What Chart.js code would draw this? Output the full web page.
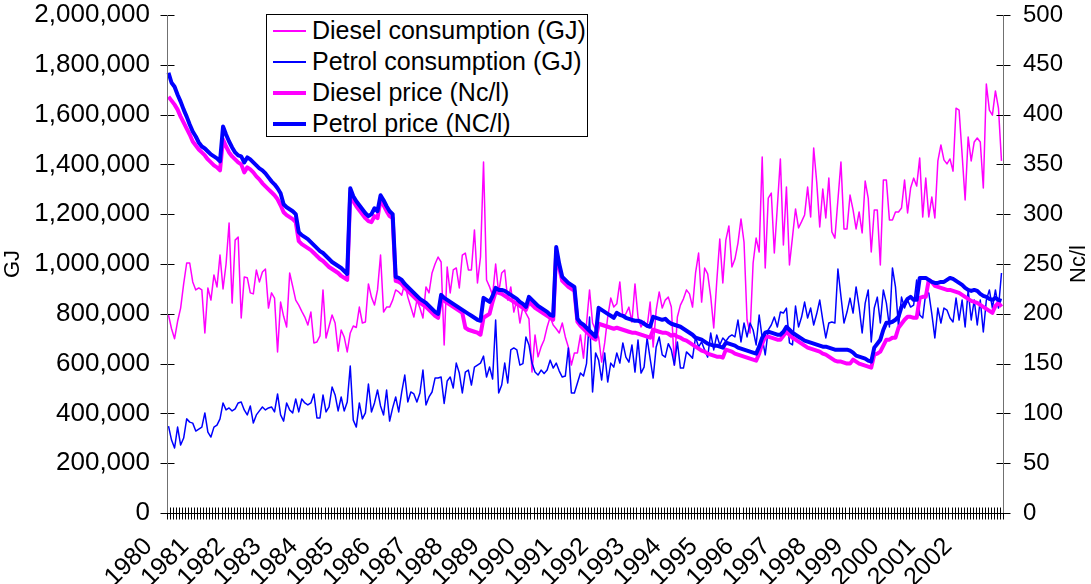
<!DOCTYPE html>
<html>
<head>
<meta charset="utf-8">
<script src="https://cdn.jsdelivr.net/npm/chart.js@4.4.1/dist/chart.umd.min.js"></script>
<style>
  html, body { margin: 0; padding: 0; background: #fff; }
  #wrap { position: relative; width: 1091px; height: 584px; overflow: hidden; }
  #legend {
    position: absolute; left: 266px; top: 14px; width: 320px; height: 121px;
    border: 1px solid #000; background: #fff;
    font-family: 'Liberation Sans', Arial, sans-serif; font-size: 25px; color: #000;
  }
  #legend .row { display: flex; align-items: center; height: 31px; }
  #legend .swatch { margin-left: 6px; width: 33px; margin-right: 6px; }
</style>
</head>
<body>
<div id="wrap">
  <canvas id="chart" width="1091" height="584"></canvas>
  <div id="legend"></div>
</div>
<script>
{
  const years = ['1980', '1981', '1982', '1983', '1984', '1985', '1986', '1987', '1988', '1989', '1990', '1991',
    '1992', '1993', '1994', '1995', '1996', '1997', '1998', '1999', '2000', '2001', '2002'];

  // one category per month, Jan 1980 .. Dec 2002
  const months = years.flatMap(y => ['01', '02', '03', '04', '05', '06', '07', '08', '09', '10', '11', '12'].map(m => y + '-' + m));

  // diesel consumption, GJ per month
  const dieselGJ = [
    795000, 740000, 700000, 770000, 823000, 920000, 1004000, 1004000, 928000, 896000, 904000, 896000,
    723000, 904000, 855000, 956000, 908000, 1036000, 900000, 1000000, 1165000, 843000, 1096000, 1108000,
    783000, 948000, 945000, 884000, 880000, 976000, 928000, 968000, 980000, 823000, 884000, 863000,
    647000, 847000, 790000, 747000, 964000, 910000, 855000, 835000, 810000, 787000, 755000, 807000,
    683000, 687000, 711000, 896000, 703000, 750000, 795000, 763000, 650000, 735000, 707000, 647000,
    723000, 751000, 745000, 827000, 763000, 767000, 920000, 867000, 835000, 896000, 1036000, 807000,
    827000, 827000, 855000, 896000, 888000, 875000, 924000, 867000, 827000, 787000, 855000, 823000,
    783000, 908000, 884000, 964000, 1000000, 1028000, 1008000, 675000, 988000, 884000, 976000, 984000,
    904000, 1036000, 1044000, 976000, 976000, 1137000, 924000, 1028000, 1410000, 936000, 908000, 875000,
    1000000, 884000, 964000, 976000, 855000, 908000, 807000, 855000, 763000, 827000, 803000, 780000,
    566000, 715000, 627000, 667000, 695000, 747000, 787000, 755000, 740000, 723000, 763000, 707000,
    667000, 594000, 643000, 643000, 715000, 622000, 760000, 896000, 763000, 735000, 707000, 606000,
    683000, 787000, 863000, 827000, 840000, 928000, 787000, 800000, 827000, 767000, 920000, 787000,
    747000, 770000, 747000, 847000, 667000, 815000, 888000, 823000, 855000, 867000, 827000, 594000,
    787000, 835000, 860000, 896000, 880000, 827000, 964000, 1044000, 847000, 984000, 960000, 870000,
    743000, 930000, 1100000, 924000, 1096000, 1153000, 988000, 1020000, 1084000, 1181000, 1088000, 775000,
    723000, 1004000, 1104000, 1048000, 1430000, 984000, 1265000, 1285000, 1044000, 1230000, 1422000, 1076000,
    1309000, 996000, 1108000, 1221000, 1145000, 1170000, 1197000, 1309000, 1189000, 1466000, 1329000, 1149000,
    1301000, 1185000, 1345000, 1129000, 1104000, 1257000, 1410000, 1141000, 1141000, 1277000, 1217000, 1141000,
    1209000, 1125000, 1333000, 1265000, 1048000, 1217000, 1217000, 996000, 1337000, 1337000, 1177000, 1177000,
    1209000, 1209000, 1225000, 1337000, 1205000, 1305000, 1345000, 1313000, 1426000, 1189000, 1345000, 1189000,
    1269000, 1185000, 1414000, 1478000, 1418000, 1402000, 1422000, 1373000, 1626000, 1618000, 1440000, 1257000,
    1510000, 1414000, 1490000, 1506000, 1490000, 1305000, 1723000, 1618000, 1598000, 1695000, 1626000, 1414000
  ];

  // petrol consumption, GJ per month
  const petrolGJ = [
    349000, 293000, 261000, 345000, 273000, 301000, 378000, 365000, 361000, 329000, 337000, 345000,
    402000, 325000, 305000, 345000, 353000, 378000, 442000, 414000, 422000, 410000, 418000, 442000,
    446000, 414000, 394000, 430000, 361000, 394000, 410000, 426000, 414000, 422000, 426000, 406000,
    478000, 394000, 369000, 442000, 414000, 402000, 458000, 406000, 458000, 442000, 434000, 442000,
    478000, 382000, 382000, 474000, 406000, 426000, 506000, 474000, 410000, 466000, 410000, 446000,
    590000, 373000, 345000, 442000, 378000, 402000, 518000, 406000, 442000, 494000, 430000, 394000,
    494000, 369000, 422000, 466000, 406000, 486000, 554000, 446000, 486000, 478000, 446000, 482000,
    574000, 434000, 466000, 486000, 542000, 542000, 546000, 440000, 530000, 546000, 502000, 602000,
    562000, 482000, 566000, 574000, 514000, 586000, 594000, 602000, 630000, 546000, 586000, 538000,
    775000, 482000, 514000, 602000, 522000, 655000, 663000, 655000, 594000, 600000, 707000, 675000,
    602000, 566000, 554000, 574000, 560000, 574000, 614000, 582000, 602000, 570000, 546000, 550000,
    663000, 482000, 482000, 522000, 562000, 550000, 600000, 787000, 486000, 643000, 614000, 534000,
    643000, 526000, 602000, 586000, 643000, 602000, 683000, 626000, 606000, 675000, 566000, 695000,
    562000, 586000, 703000, 620000, 542000, 667000, 707000, 635000, 626000, 680000, 655000, 594000,
    687000, 582000, 582000, 647000, 635000, 622000, 707000, 667000, 687000, 655000, 626000, 723000,
    655000, 715000, 675000, 703000, 690000, 707000, 715000, 707000, 775000, 687000, 763000, 707000,
    763000, 735000, 675000, 795000, 703000, 635000, 735000, 755000, 787000, 747000, 807000, 803000,
    823000, 683000, 675000, 831000, 747000, 787000, 847000, 783000, 823000, 755000, 800000, 855000,
    775000, 703000, 763000, 767000, 763000, 980000, 870000, 763000, 807000, 863000, 803000, 908000,
    827000, 723000, 843000, 896000, 687000, 823000, 867000, 763000, 896000, 843000, 747000, 984000,
    908000, 747000, 867000, 823000, 855000, 827000, 835000, 936000, 795000, 783000, 884000, 884000,
    800000, 703000, 823000, 763000, 823000, 815000, 783000, 767000, 863000, 775000, 855000, 747000,
    896000, 775000, 855000, 755000, 855000, 727000, 855000, 896000, 823000, 896000, 823000, 964000
  ];

  // diesel price, Nc/l
  const dieselPrice = [
    418, 414, 410, 405, 398, 392, 386, 380, 373, 369, 365, 362,
    359, 355, 352, 349, 347, 344, 375, 368, 362, 358, 355, 352,
    350, 342, 347, 345, 342, 338, 335, 331, 328, 325, 322, 319,
    315, 309, 302, 299, 297, 295, 292, 273, 270, 268, 266, 264,
    261, 258, 255, 253, 250, 247, 245, 243, 241, 238, 236, 234,
    321, 313, 308, 304, 300, 296, 293, 292, 298, 296, 314, 309,
    303, 298, 296, 233, 232, 230, 226, 223, 220, 217, 214, 211,
    209, 207, 204, 201, 198, 196, 215, 213, 211, 209, 207, 205,
    203, 201, 186, 184, 183, 182, 181, 179, 196, 198, 200, 212,
    222, 221, 220, 218, 216, 214, 212, 210, 208, 206, 204, 212,
    209, 206, 204, 202, 200, 198, 196, 194, 262, 246, 233, 230,
    227, 225, 223, 192, 188, 185, 182, 179, 176, 174, 190, 189,
    188, 187, 186, 185, 186, 185, 184, 183, 182, 181, 181, 180,
    179, 178, 177, 176, 184, 183, 182, 181, 181, 180, 178, 179,
    177, 176, 174, 173, 171, 169, 167, 165, 163, 162, 160, 159,
    158, 157, 157, 156, 164, 163, 162, 160, 159, 158, 157, 156,
    155, 154, 153, 160, 170, 177, 177, 176, 175, 174, 174, 178,
    182, 179, 176, 174, 172, 170, 168, 166, 165, 164, 163, 162,
    160, 159, 157, 155, 153, 152, 152, 151, 150, 150, 154, 152,
    150, 149, 148, 147, 146, 159, 160, 162, 168, 174, 174, 176,
    176, 186, 190, 194, 197, 197, 196, 196, 216, 217, 217, 234,
    232, 228, 227, 226, 225, 224, 224, 223, 222, 221, 219, 217,
    215, 213, 212, 211, 209, 207, 205, 203, 201, 208, 211, 207
  ];

  // petrol price, Nc/l
  const petrolPrice = [
    442, 432, 428, 420, 413, 405, 398, 390, 383, 378, 372, 368,
    366, 363, 360, 358, 356, 353, 388, 380, 373, 367, 362, 359,
    358, 352, 357, 355, 352, 349, 346, 344, 341, 337, 333, 330,
    326, 321, 310, 307, 305, 303, 300, 282, 279, 277, 275, 272,
    269, 266, 263, 261, 258, 255, 252, 250, 248, 246, 243, 240,
    326, 318, 313, 309, 305, 301, 298, 300, 306, 303, 319, 314,
    308, 303, 300, 237, 236, 234, 230, 227, 224, 221, 218, 215,
    213, 211, 208, 205, 202, 200, 219, 216, 214, 212, 210, 208,
    206, 204, 202, 200, 198, 196, 194, 193, 216, 214, 212, 218,
    226, 224, 224, 223, 221, 219, 217, 215, 212, 210, 207, 217,
    214, 211, 208, 206, 204, 202, 199, 198, 267, 250, 237, 234,
    231, 229, 227, 195, 191, 189, 186, 183, 180, 177, 206, 204,
    202, 200, 198, 196, 201, 199, 198, 196, 195, 194, 193, 193,
    192, 190, 188, 187, 197, 196, 195, 194, 195, 192, 190, 189,
    188, 187, 185, 183, 181, 179, 176, 175, 174, 172, 170, 169,
    168, 168, 167, 166, 171, 170, 169, 168, 166, 165, 164, 163,
    162, 161, 160, 167, 176, 181, 182, 181, 180, 179, 179, 182,
    187, 184, 181, 179, 177, 175, 173, 172, 171, 170, 169, 168,
    167, 167, 166, 165, 164, 164, 164, 164, 164, 163, 161, 158,
    157, 156, 155, 153, 152, 166, 170, 174, 184, 191, 191, 192,
    194, 197, 207, 210, 215, 217, 214, 214, 236, 236, 236, 234,
    232, 231, 231, 232, 232, 234, 236, 235, 233, 231, 229, 226,
    224, 223, 224, 223, 220, 218, 217, 215, 214, 216, 214, 213
  ];

  const FONT = "'Liberation Sans', Arial, sans-serif";
  const PLOT_TOP = 15;

  // axis lines, tick marks that cross the axes, and the right axis title
  const crossTicks = {
    id: 'crossTicks',
    afterDatasetsDraw(chart) {
      const { ctx, chartArea: a, scales } = chart;
      const seg = (x1, y1, x2, y2) => { ctx.beginPath(); ctx.moveTo(x1, y1); ctx.lineTo(x2, y2); ctx.stroke(); };
      ctx.save();
      ctx.lineWidth = 1;
      ctx.strokeStyle = '#000';
      const L = Math.round(a.left) + 0.5, R = Math.round(a.right) + 0.5, B = Math.round(a.bottom) + 0.5;
      const n = scales.x.ticks.length;
      const step = (a.right - a.left) / n;
      for (let k = 0; k <= n; k++) {
        const px = Math.round(a.left + k * step) + 0.5;
        seg(px, B - 6, px, B + 6);
      }
      scales.y.ticks.forEach((t, i) => {
        const py = Math.round(scales.y.getPixelForTick(i)) + 0.5;
        seg(L - 7, py, L + 7, py);
      });
      scales.y1.ticks.forEach((t, i) => {
        const py = Math.round(scales.y1.getPixelForTick(i)) + 0.5;
        seg(R - 7, py, R + 7, py);
      });
      seg(a.left, B, a.right, B);
      ctx.strokeStyle = '#707070';
      seg(L, a.top, L, a.bottom);
      seg(R, a.top, R, a.bottom);

      // right title reads bottom to top, as in the original
      ctx.fillStyle = '#000';
      ctx.font = '22px ' + FONT;
      ctx.textAlign = 'center';
      ctx.textBaseline = 'middle';
      ctx.translate(chart.width - 12, (a.top + a.bottom) / 2);
      ctx.rotate(-Math.PI / 2);
      ctx.fillText('Nc/l', 0, 0);
      ctx.restore();
    }
  };

  const ctx = document.getElementById('chart');

  const chart = new Chart(ctx, {
    type: 'line',
    data: {
      labels: months,
      datasets: [
        { label: 'Diesel consumption (GJ)', data: dieselGJ, yAxisID: 'y',
          borderColor: '#ff00ff', borderWidth: 1.5, order: 4 },
        { label: 'Petrol consumption (GJ)', data: petrolGJ, yAxisID: 'y',
          borderColor: '#0000ff', borderWidth: 1.5, order: 3 },
        { label: 'Diesel price (Nc/l)', data: dieselPrice, yAxisID: 'y1',
          borderColor: '#ff00ff', borderWidth: 4, order: 2 },
        { label: 'Petrol price (NC/l)', data: petrolPrice, yAxisID: 'y1',
          borderColor: '#0000ff', borderWidth: 4, order: 1 }
      ]
    },
    options: {
      responsive: false,
      animation: false,
      layout: { padding: { top: PLOT_TOP, left: 0, right: 0, bottom: 0 } },
      elements: {
        point: { radius: 0, hoverRadius: 0 },
        line: { tension: 0, fill: false, borderJoinStyle: 'round' }
      },
      plugins: { legend: { display: false }, tooltip: { enabled: false } },
      scales: {
        x: {
          offset: true,
          grid: { display: false },
          border: { display: false },
          ticks: {
            autoSkip: false, maxRotation: 45, minRotation: 45, padding: 11, labelOffset: -20,
            color: '#000', font: { family: FONT, size: 25 },
            callback: (v, i) => (i % 12 === 0 ? years[i / 12] : '')
          },
          afterFit: s => { s.height = 71; }
        },
        y: {
          position: 'left', min: 0, max: 2000000,
          grid: { display: false },
          border: { display: false },
          ticks: {
            stepSize: 200000, padding: 9, color: '#000', font: { family: FONT, size: 26 },
            callback: v => v.toLocaleString('en-US')
          },
          title: { display: true, text: 'GJ', color: '#000', font: { family: FONT, size: 22 }, padding: 0 },
          afterFit: s => { s.width = 167; s.paddingTop = 0; s.paddingBottom = 0; }
        },
        y1: {
          position: 'right', min: 0, max: 500,
          grid: { display: false },
          border: { display: false },
          ticks: { stepSize: 50, padding: 12, color: '#000', font: { family: FONT, size: 24 } },
          afterFit: s => { s.width = 88; s.paddingTop = 0; s.paddingBottom = 0; }
        }
      }
    },
    plugins: [crossTicks]
  });

  // pull the plot top up to where the original has it
  const extra = chart.chartArea.top - PLOT_TOP;
  if (Math.abs(extra) > 0.5) {
    chart.options.layout.padding.top = PLOT_TOP - extra;
    chart.update();
  }

  // legend box sits inside the plot, built from the datasets
  const legend = document.getElementById('legend');
  chart.data.datasets.forEach(ds => {
    const row = document.createElement('div');
    row.className = 'row';
    const sw = document.createElement('span');
    sw.className = 'swatch';
    sw.style.height = (ds.borderWidth > 2 ? 4 : 2) + 'px';
    sw.style.background = ds.borderColor;
    const txt = document.createElement('span');
    txt.textContent = ds.label;
    row.appendChild(sw);
    row.appendChild(txt);
    legend.appendChild(row);
  });
}
</script>
</body>
</html>
